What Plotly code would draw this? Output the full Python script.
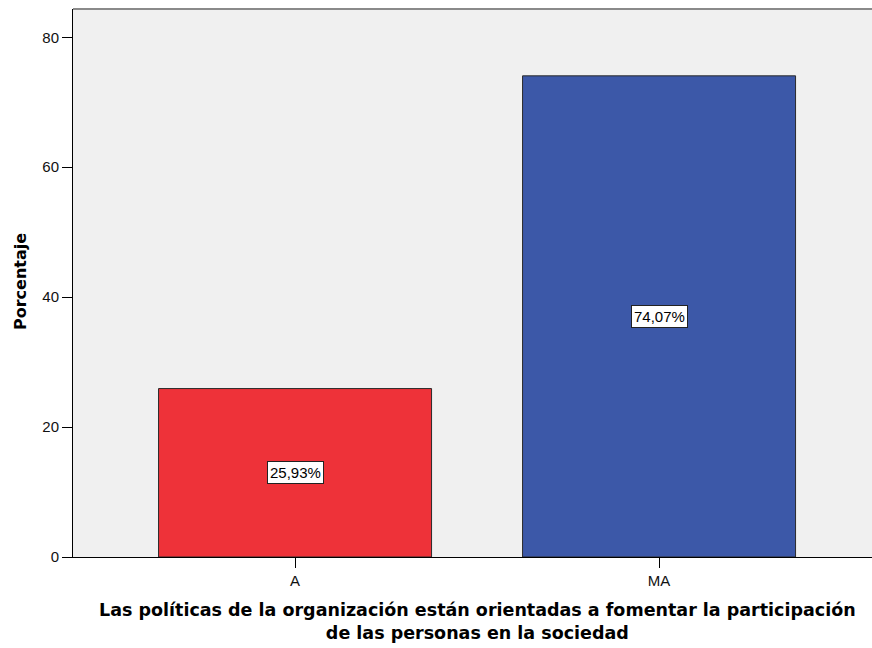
import plotly.graph_objects as go

categories = ["A", "MA"]
values = [25.93, 74.07]
labels = ["25,93%", "74,07%"]
colors = ["#EE3239", "#3C58A8"]
y_ticks = [0, 20, 40, 60, 80]

W, H = 872, 648
ml, mr, mt, mb = 73, 0, 9, 91
pw = W - ml - mr
ph = H - mt - mb

SANS = "Liberation Sans, Arial"
BOLD = "DejaVu Sans, Verdana"

fig = go.Figure()
fig.add_trace(go.Bar(
    x=categories, y=values, width=0.75,
    marker=dict(color=colors, line=dict(color="#2a2a2a", width=1)),
    hoverinfo="skip", showlegend=False,
))

for c, v, t in zip(categories, values, labels):
    fig.add_annotation(x=c, y=v / 2, xref="x", yref="y", text=t, showarrow=False,
                       font=dict(family=SANS, size=15, color="#000"),
                       bgcolor="white", bordercolor="#222", borderwidth=1, borderpad=2)

fig.add_annotation(x=(477 - ml) / pw, y=(557 - 598) / ph, xref="paper", yref="paper",
                   xanchor="center", yanchor="top", showarrow=False, align="center",
                   text="<b>Las políticas de la organización están orientadas a fomentar la participación<br>de las personas en la sociedad</b>",
                   font=dict(family=BOLD, size=17.5, color="#000"))

fig.add_annotation(x=(20 - ml) / pw, y=(557 - 281) / ph, xref="paper", yref="paper",
                   xanchor="center", yanchor="middle", showarrow=False, textangle=-90,
                   text="<b>Porcentaje</b>",
                   font=dict(family=BOLD, size=16, color="#000"))

fig.add_shape(type="line", xref="paper", yref="paper", x0=0, x1=1, y0=1, y1=1,
              line=dict(color="#8a8a8a", width=2))

fig.update_layout(
    width=W, height=H,
    margin=dict(l=ml, r=mr, t=mt, b=mb),
    paper_bgcolor="white", plot_bgcolor="#F0F0F0",
    xaxis=dict(range=[-0.61, 1.585], showgrid=False, zeroline=False,
               showline=True, linecolor="#000", linewidth=1,
               ticks="outside", ticklen=10, tickcolor="#000", tickwidth=1,
               tickfont=dict(family=SANS, size=15, color="#111")),
    yaxis=dict(range=[0, 84.36], tickvals=y_ticks, showgrid=False, zeroline=False,
               showline=True, linecolor="#000", linewidth=1,
               ticks="outside", ticklen=10, tickcolor="#000", tickwidth=1,
               tickfont=dict(family=SANS, size=15, color="#111")),
    font=dict(family=SANS),
)

fig.write_html("out.html", config={"displayModeBar": False},
               post_script="document.body.style.margin='0';document.body.style.overflow='hidden';")
